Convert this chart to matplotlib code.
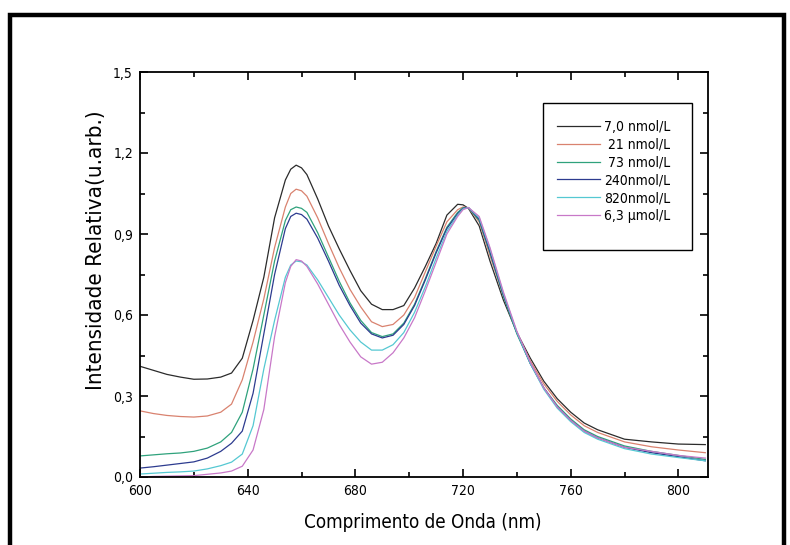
import matplotlib
matplotlib.use("Agg")
import matplotlib.pyplot as plt
from matplotlib import font_manager
from matplotlib.patches import Rectangle
from matplotlib.ticker import MultipleLocator, FuncFormatter

# Wavelength grid (nm) shared by all spectra
wavelength = [600, 605, 610, 615, 620, 625, 630, 634, 638, 642, 646, 650, 654,
              656, 658, 660, 662, 666, 670, 674, 678, 682, 686, 690, 694, 698, 702, 706,
              710, 714, 718, 720, 722, 726, 730, 735, 740, 745, 750, 755, 760, 765,
              770, 780, 790, 800, 810]

conc_7_0nM = [0.41, 0.395, 0.38, 0.37, 0.362, 0.363, 0.37, 0.385, 0.44, 0.58, 0.74, 0.96, 1.10,
              1.14, 1.155, 1.145, 1.12, 1.03, 0.93, 0.845, 0.765, 0.69, 0.64, 0.62, 0.62, 0.635,
              0.70, 0.78, 0.865, 0.97, 1.01, 1.008, 0.995, 0.93, 0.80, 0.655, 0.535, 0.44, 0.355,
              0.29, 0.24, 0.20, 0.175, 0.14, 0.13, 0.122, 0.12]

conc_21nM = [0.245, 0.235, 0.228, 0.224, 0.222, 0.226, 0.24, 0.27, 0.36, 0.50, 0.66, 0.85, 1.00,
             1.05, 1.066, 1.06, 1.04, 0.96, 0.865, 0.775, 0.695, 0.63, 0.575, 0.557, 0.565, 0.60,
             0.665, 0.76, 0.855, 0.945, 0.99, 1.0, 0.997, 0.945, 0.82, 0.67, 0.535, 0.43, 0.345,
             0.28, 0.23, 0.19, 0.165, 0.13, 0.112, 0.10, 0.09]

conc_73nM = [0.078, 0.082, 0.086, 0.089, 0.095, 0.107, 0.13, 0.165, 0.24, 0.40, 0.60, 0.80, 0.95,
             0.99, 1.0, 0.995, 0.98, 0.905, 0.815, 0.725, 0.645, 0.58, 0.535, 0.52, 0.53, 0.57,
             0.64, 0.735, 0.835, 0.925, 0.98, 0.997, 0.997, 0.95, 0.83, 0.67, 0.53, 0.42, 0.33,
             0.265, 0.215, 0.175, 0.15, 0.115, 0.095, 0.08, 0.065]

conc_240nM = [0.033, 0.038, 0.044, 0.05, 0.056, 0.07, 0.095, 0.125, 0.17, 0.31, 0.53, 0.75, 0.92,
              0.965, 0.977, 0.972, 0.955, 0.885, 0.80, 0.71, 0.635, 0.57, 0.53, 0.515, 0.525,
              0.565, 0.635, 0.73, 0.83, 0.92, 0.975, 0.995, 0.998, 0.955, 0.835, 0.675, 0.535,
              0.42, 0.33, 0.26, 0.21, 0.17, 0.145, 0.11, 0.09, 0.075, 0.06]

conc_820nM = [0.011, 0.014, 0.017, 0.019, 0.022, 0.03, 0.042, 0.055, 0.085, 0.19, 0.40, 0.58, 0.74,
              0.785, 0.80, 0.797, 0.785, 0.73, 0.665, 0.60, 0.545, 0.50, 0.47, 0.47, 0.49, 0.535,
              0.61, 0.705, 0.81, 0.91, 0.97, 0.993, 0.998, 0.96, 0.845, 0.68, 0.535, 0.42, 0.325,
              0.255, 0.205, 0.165, 0.14, 0.105, 0.085, 0.072, 0.06]

conc_6_3uM = [0.0, 0.002, 0.003, 0.004, 0.005, 0.01, 0.015, 0.022, 0.04, 0.10, 0.25, 0.52, 0.72,
              0.78, 0.805, 0.80, 0.78, 0.715, 0.64, 0.565, 0.50, 0.445, 0.418, 0.425, 0.46, 0.515,
              0.59, 0.69, 0.795, 0.90, 0.965, 0.99, 0.998, 0.965, 0.85, 0.685, 0.54, 0.425, 0.33,
              0.26, 0.21, 0.17, 0.145, 0.11, 0.095, 0.08, 0.07]

series = [conc_7_0nM, conc_21nM, conc_73nM, conc_240nM, conc_820nM, conc_6_3uM]
labels = ["7,0 nmol/L", "21 nmol/L", "73 nmol/L", "240nmol/L", "820nmol/L", "6,3 \u00b5mol/L"]
colors = ["#2b2b2b", "#d9826f", "#2fa27c", "#2d3b8f", "#55c8d2", "#c878c8"]

x_ticks = [600, 640, 680, 720, 760, 800]
y_ticks = [0.0, 0.3, 0.6, 0.9, 1.2, 1.5]

# prefer a condensed sans face when one is installed
condensed = any(f.name == "DejaVu Sans" and f.stretch in ("condensed", 400, "semi-condensed")
                for f in font_manager.fontManager.ttflist)
if condensed:
    plt.rcParams["font.family"] = ["DejaVu Sans"]
    plt.rcParams["font.stretch"] = "condensed"
else:
    plt.rcParams["font.family"] = ["Liberation Sans", "DejaVu Sans"]

W, H = 790, 545
fig = plt.figure(figsize=(W / 100, H / 100), dpi=100)
ax_l, ax_r, ax_t, ax_b = 140, 708, 72, 477
ax = fig.add_axes([ax_l / W, 1 - ax_b / H, (ax_r - ax_l) / W, (ax_b - ax_t) / H])


def axes_frac(px, py):
    """Pixel position in the figure -> axes fraction."""
    return (px - ax_l) / (ax_r - ax_l), (ax_b - py) / (ax_b - ax_t)


for values, label, color in zip(series, labels, colors):
    ax.plot(wavelength, values, color=color, lw=0.9, label=label)

ax.set_xlim(600, 811)
ax.set_ylim(0.0, 1.5)
ax.set_xticks(x_ticks)
ax.set_yticks(y_ticks)
ax.xaxis.set_minor_locator(MultipleLocator(20))
ax.yaxis.set_minor_locator(MultipleLocator(0.15))
ax.yaxis.set_major_formatter(FuncFormatter(lambda v, p: f"{v:.1f}".replace(".", ",")))
ax.tick_params(which="both", direction="in", top=True, right=True, width=1.2,
               labelsize=10, pad=5)
ax.tick_params(which="major", length=6)
ax.tick_params(which="minor", length=3.5)
for s in ax.spines.values():
    s.set_linewidth(1.3)

ax.set_xlabel("Comprimento de Onda (nm)", fontsize=13.5)
ax.xaxis.set_label_coords(*axes_frac(423, 522))
ax.xaxis.label.set_va("center")
ax.set_ylabel("Intensidade Relativa(u.arb.)", fontsize=16)
ax.yaxis.set_label_coords(*axes_frac(96, 250))
ax.yaxis.label.set_va("center")

# legend: entries without frame, plus a plain box around them
leg = ax.legend(loc="upper left", bbox_to_anchor=axes_frac(557, 120),
                fontsize=10, frameon=False, borderpad=0, handlelength=3.1,
                handletextpad=0.25, labelspacing=0.27, borderaxespad=0)
bx0, by1 = axes_frac(543, 103)
bx1, by0 = axes_frac(692, 250)
ax.add_patch(Rectangle((bx0, by0), bx1 - bx0, by1 - by0, transform=ax.transAxes,
                       fill=False, lw=1.0, edgecolor="black", zorder=5))

# right-align the legend labels
fig.canvas.draw()
renderer = fig.canvas.get_renderer()
widths = [t.get_window_extent(renderer).width for t in leg.get_texts()]
wmax = max(widths)
for t, w in zip(leg.get_texts(), widths):
    t.set_x(wmax - w)

# outer frame around the figure
fig.patches.append(Rectangle((10 / W, -0.05), (784 - 10) / W, 1.05 - 15 / H,
                             transform=fig.transFigure, fill=False, lw=3.2,
                             edgecolor="black", clip_on=False))

fig.savefig("out.png", dpi=100)
